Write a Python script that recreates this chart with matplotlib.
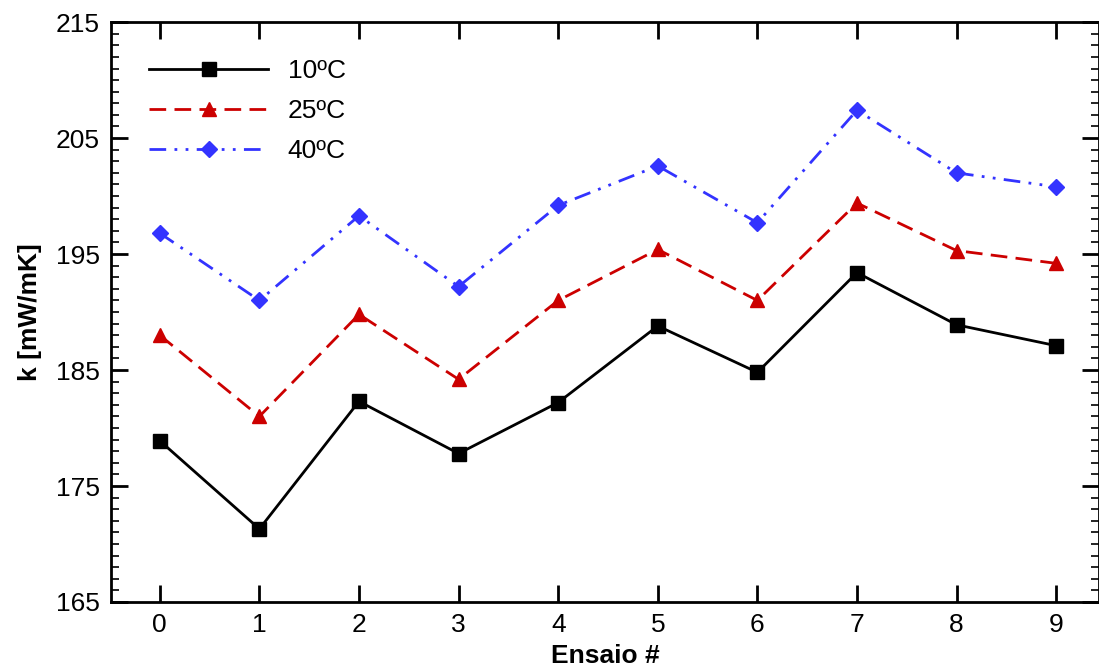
import matplotlib.pyplot as plt
from matplotlib.ticker import MultipleLocator

plt.rcParams['font.family'] = ['Liberation Sans', 'DejaVu Sans']

ensaio = [0, 1, 2, 3, 4, 5, 6, 7, 8, 9]
k_10 = [178.9, 171.3, 182.3, 177.8, 182.2, 188.8, 184.8, 193.4, 188.9, 187.1]
k_25 = [188.0, 181.0, 189.8, 184.2, 191.0, 195.4, 191.0, 199.4, 195.3, 194.2]
k_40 = [196.8, 191.0, 198.3, 192.2, 199.2, 202.6, 197.7, 207.4, 202.0, 200.8]
y_ticks = [165, 175, 185, 195, 205, 215]

fig = plt.figure(figsize=(10.99, 6.70), dpi=100)
ax = fig.add_axes([0.101, 0.1015, 0.899, 0.8655])

ax.plot(ensaio, k_10, color='black', lw=2, marker='s', ms=10, label='10ºC')
ax.plot(ensaio, k_25, color='#cc0000', lw=2, ls=(0, (6, 3)), marker='^', ms=10, label='25ºC')
ax.plot(ensaio, k_40, color='#3333ff', lw=2, ls=(0, (6, 3, 1, 3, 1, 3)), marker='D', ms=8, label='40ºC')

ax.set_xlim(-0.49, 9.43)
ax.set_ylim(165, 215)
ax.set_xticks(ensaio)
ax.set_yticks(y_ticks)
ax.yaxis.set_minor_locator(MultipleLocator(1))

ax.tick_params(which='both', direction='in', top=True, right=True, labelsize=19, width=2)
ax.tick_params(which='major', length=12, pad=8)
ax.tick_params(which='minor', length=6, width=1.2)
ax.tick_params(axis='x', which='minor', top=False, bottom=False)
for s in ax.spines.values():
    s.set_linewidth(2)

ax.set_xlabel('Ensaio #', fontsize=19, fontweight='bold', labelpad=5)
ax.set_ylabel('k [mW/mK]', fontsize=19, fontweight='bold', labelpad=10)

ax.legend(loc='upper left', frameon=False, fontsize=19, handlelength=4.5,
          handletextpad=0.75, labelspacing=0.6, borderaxespad=0.3,
          bbox_to_anchor=(0.02, 0.968))

fig.savefig('out.png', dpi=100)
